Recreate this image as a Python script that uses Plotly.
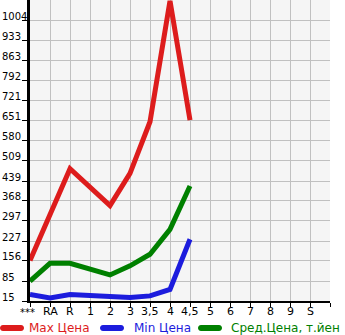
import plotly.graph_objects as go

categories = ["***", "RA", "R", "1", "2", "3", "3,5", "4", "4,5", "5", "6", "7", "8", "9", "S"]
max_price = [158, 318, 482, None, 352, 466, 648, 1075, 654, None, None, None, None, None, None]
min_price = [38, 26, 38, None, 33, 27, 33, 56, 233, None, None, None, None, None, None]
avg_price = [85, 148, 148, None, 107, 139, 180, 268, 421, None, None, None, None, None, None]

y_tick_vals = [15, 85.6, 156.3, 226.9, 297.6, 368.2, 438.8, 509.5, 580.1, 650.8, 721.4, 792.0, 862.7, 933.3, 1004]
y_tick_text = ["15", "85", "156", "227", "297", "368", "439", "509", "580", "651", "721", "792", "863", "933", "1004"]
y_range = [15, 1078]

series = [
    ("Max Цена", max_price, "#dd1c1c"),
    ("Min Цена", min_price, "#1c1cdd"),
    ("Сред.Цена, т.йен", avg_price, "#008000"),
]

FONT = "DejaVu Sans"
PLOT_H = 301
x_idx = list(range(len(categories)))

fig = go.Figure()
for name, vals, col in series:
    fig.add_trace(go.Scatter(x=x_idx, y=vals, mode="lines", name=name,
                             line=dict(color=col, width=5), connectgaps=True,
                             showlegend=False, hoverinfo="skip"))

fig.update_layout(
    width=345, height=335,
    margin=dict(l=30, r=15, t=0, b=34),
    paper_bgcolor="white", plot_bgcolor="#f5f5f5",
    font=dict(family=FONT, size=10, color="black"),
    showlegend=False,
)
fig.update_xaxes(range=[0, len(categories)], tickvals=list(range(len(categories) + 1)),
                 ticktext=categories + [""], showticklabels=False,
                 showgrid=True, gridcolor="#c0c0c0", gridwidth=1,
                 showline=True, linecolor="black", linewidth=2, ticks="outside", ticklen=4,
                 tickcolor="black", zeroline=False, fixedrange=True)
fig.update_yaxes(range=y_range, tickvals=y_tick_vals, ticktext=y_tick_text, showticklabels=False,
                 showgrid=True, gridcolor="#c0c0c0", gridwidth=1,
                 showline=True, linecolor="black", linewidth=3, ticks="outside", ticklen=5,
                 tickcolor="black", zeroline=False, fixedrange=True)

annotations = []
for v, t in zip(y_tick_vals, y_tick_text):
    annotations.append(dict(x=0, xref="paper", y=v, yref="y", text=t, showarrow=False,
                            xanchor="left", yanchor="middle", xshift=-30, yshift=4,
                            font=dict(family=FONT, size=10, color="black")))
for i, t in enumerate(categories):
    annotations.append(dict(x=i, xref="x", y=0, yref="paper", text=t, showarrow=False,
                            xanchor="center", yanchor="middle",
                            yshift=-11 if i == 0 else -10,
                            xshift=-3 if i == 0 else 0,
                            font=dict(family=FONT, size=11 if i else 10, color="black")))

# legend (swatch + text) placed below the plot
legend_swatch_x = [0, 100, 198]  # pixel left of swatch
legend_text_x = [28, 133, 230]
leg_dy = -27
shapes = []
r = 3
for (name, vals, col), lx, tx in zip(series, legend_swatch_x, legend_text_x):
    a = lx + r - 30
    b = lx + 24 - r - 30
    k = 1.33 * r
    path = (f"M{a},{-r} L{b},{-r} C{b + k},{-r} {b + k},{r} {b},{r} "
            f"L{a},{r} C{a - k},{r} {a - k},{-r} {a},{-r} Z")
    shapes.append(dict(type="path", xref="paper", yref="paper", xsizemode="pixel", ysizemode="pixel",
                       xanchor=0, yanchor=leg_dy / PLOT_H, path=path, fillcolor=col, line=dict(width=0)))
    annotations.append(dict(x=0, xref="paper", y=0, yref="paper", text=name, showarrow=False,
                            xanchor="left", yanchor="middle", xshift=tx - 30 - 1, yshift=leg_dy,
                            font=dict(family=FONT, size=12, color=col)))
fig.update_layout(annotations=annotations, shapes=shapes)
fig.write_html("out.html")
